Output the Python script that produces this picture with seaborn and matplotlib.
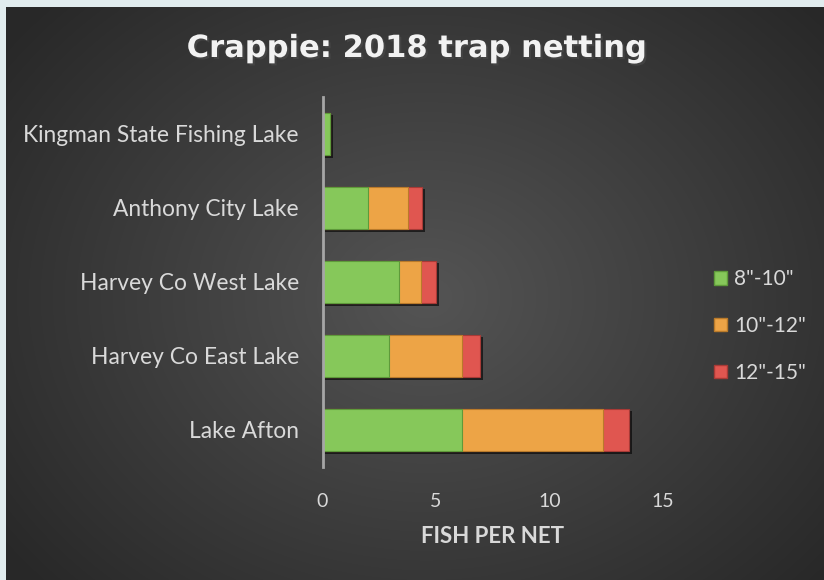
import numpy as np
import pandas as pd
import seaborn as sns
import matplotlib.pyplot as plt
import matplotlib.patheffects as pe
from matplotlib.patches import Patch

lakes = ['Kingman State Fishing Lake', 'Anthony City Lake', 'Harvey Co West Lake',
         'Harvey Co East Lake', 'Lake Afton']
size_classes = ['8"-10"', '10"-12"', '12"-15"']
fish_8_10 = [0.35, 2.0, 3.35, 2.95, 6.15]
fish_10_12 = [0.0, 1.75, 1.0, 3.2, 6.2]
fish_12_15 = [0.0, 0.65, 0.65, 0.8, 1.15]
colors = ['#86c85a', '#eda446', '#e05650']
edges = ['#5e9a3a', '#b97a2a', '#a83a36']
txt = '#d9d9d9'

df = pd.DataFrame({'lake': lakes, 'a': fish_8_10, 'b': fish_10_12, 'c': fish_12_15})
df['cum_b'] = df['a'] + df['b']
df['cum_c'] = df['cum_b'] + df['c']

plt.rcParams['font.family'] = ['Lato', 'DejaVu Sans']

W, H = 824, 580
fig = plt.figure(figsize=(W / 100, H / 100), dpi=100)
fig.patch.set_facecolor('#e1ecee')

# radial gradient background panel
bg = fig.add_axes([6 / W, 0, 1 - 6 / W, 1 - 7 / H])
yy, xx = np.mgrid[0:573, 0:818]
r = np.hypot((xx - 420) / 520, (yy - 290) / 420)
r = np.clip(r, 0, 1)
shade = 0.33 - 0.17 * r
bg.imshow(np.dstack([shade] * 3), aspect='auto', extent=[0, 1, 0, 1])
bg.set_axis_off()

ax = fig.add_axes([322.5 / W, (H - 467) / H, (663 - 322.5) / W, (467 - 97) / H])
ax.patch.set_alpha(0)

# stacked bars: draw cumulative totals from the back
shadow = [pe.SimplePatchShadow(offset=(2, -2), alpha=0.6, shadow_rgbFace='black'), pe.Normal()]
for col, c, e, fx in [('cum_c', colors[2], edges[2], shadow),
                      ('cum_b', colors[1], edges[1], None),
                      ('a', colors[0], edges[0], None)]:
    sns.barplot(data=df, x=col, y='lake', color=c, saturation=1, width=0.58,
                edgecolor=e, linewidth=0.8, ax=ax)
    if fx:
        for p in ax.patches:
            p.set_path_effects(fx)

ax.set_xlim(0, 15)
ax.set_ylim(4.5, -0.5)
ax.set_xticks([0, 5, 10, 15])
ax.set_xlabel('FISH PER NET', color=txt, fontsize=16, fontweight='bold')
ax.xaxis.label.set_va('baseline')
ax.xaxis.set_label_coords(0.5, -0.2054)
ax.set_ylabel('')
ax.tick_params(axis='x', colors=txt, labelsize=14, length=0, pad=19)
ax.tick_params(axis='y', colors=txt, labelsize=16.4, length=0, pad=17)
for s in ['top', 'right', 'bottom']:
    ax.spines[s].set_visible(False)
ax.spines['left'].set_color('#a6a6a6')
ax.spines['left'].set_linewidth(2)

fig.text(416 / W, 1 - 57 / H, 'Crappie: 2018 trap netting', ha='center', va='baseline',
         fontsize=22, fontweight='bold', color='#f2f2f2', family='DejaVu Sans',
         path_effects=[pe.withSimplePatchShadow(offset=(1.5, -1.5), alpha=0.7)])

handles = [Patch(facecolor=c, edgecolor=e) for c, e in zip(colors, edges)]
fig.legend(handles, size_classes, loc='center left', bbox_to_anchor=(705.5 / W, 1 - 326 / H),
           frameon=False, fontsize=15, labelcolor=txt, labelspacing=1.29, borderaxespad=0,
           handlelength=0.62, handleheight=0.62, handletextpad=0.34)

fig.savefig('out.png', dpi=100, facecolor=fig.get_facecolor())
